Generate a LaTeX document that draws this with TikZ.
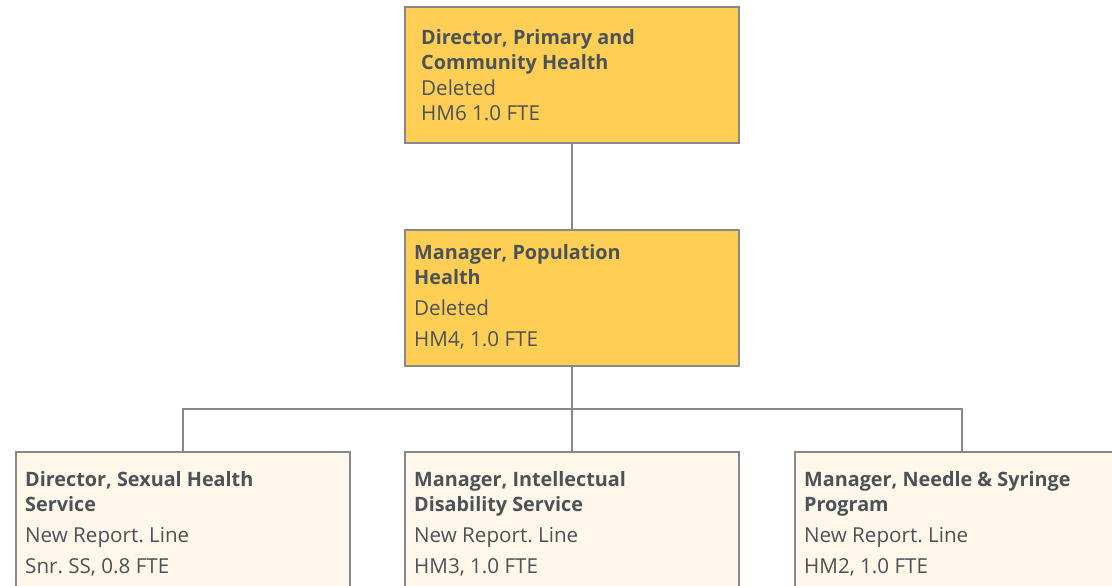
\documentclass[tikz,border=0pt]{standalone}
\usepackage{fontspec}
\setmainfont{Open Sans}
\frenchspacing
\definecolor{topfill}{HTML}{FFCE55}
\definecolor{lowfill}{HTML}{FFF8EA}
\definecolor{edge}{HTML}{888888}
\definecolor{ink}{HTML}{4B5258}
\newcommand{\rg}{\fontsize{20.6}{25.5}\selectfont}
\tikzset{
  box/.style={draw=edge, line width=2pt, rectangle, inner sep=0pt, outer sep=0pt, minimum width=334pt, minimum height=136pt, anchor=north west},
  topbox/.style={box, fill=topfill},
  lowbox/.style={box, fill=lowfill},
  txt/.style={anchor=north west, inner sep=0pt, align=left, text=ink, font=\fontsize{19.8}{25.5}\selectfont},
  link/.style={draw=edge, line width=1.6pt}
}
\begin{document}
\begin{tikzpicture}[x=1pt,y=-1pt]
\useasboundingbox (0,0) rectangle (1112,586);
\node[topbox] (dir) at (405,7) {};
\node[txt] (dirt) at (421,29) {\textbf{Director, Primary and}\\\textbf{Community Health}\\{\rg Deleted}\\{\rg HM6 1.0 FTE}};
\node[topbox] (mgr) at (405,230) {};
\node[txt] (mgrt) at (414,244) {\textbf{Manager, Population}\\\textbf{Health}\\[5.5pt]{\rg Deleted}\\[5.5pt]{\rg HM4, 1.0 FTE}};
\node[lowbox] (sex) at (16,452) {};
\node[lowbox] (ids) at (405,452) {};
\node[lowbox] (nsp) at (795,452) {};
\node[txt] (sext) at (25,471) {\textbf{Director, Sexual Health}\\\textbf{Service}\\[5.5pt]{\rg New Report. Line}\\[5.5pt]{\rg Snr. SS, 0.8 FTE}};
\node[txt] (idst) at (414,471) {\textbf{Manager, Intellectual}\\\textbf{Disability Service}\\[5.5pt]{\rg New Report. Line}\\[5.5pt]{\rg HM3, 1.0 FTE}};
\node[txt] (nspt) at (804,471) {\textbf{Manager, Needle \& Syringe}\\\textbf{Program}\\[5.5pt]{\rg New Report. Line}\\[5.5pt]{\rg HM2, 1.0 FTE}};
\coordinate (bus) at (mgr.south |- 0,409);
\draw[link] (dir.south) -- (mgr.north);
\draw[link] (mgr.south) -- (bus);
\draw[link] (sex.north) |- (bus) -| (nsp.north);
\draw[link] (bus) -- (ids.north);
\end{tikzpicture}
\end{document}
